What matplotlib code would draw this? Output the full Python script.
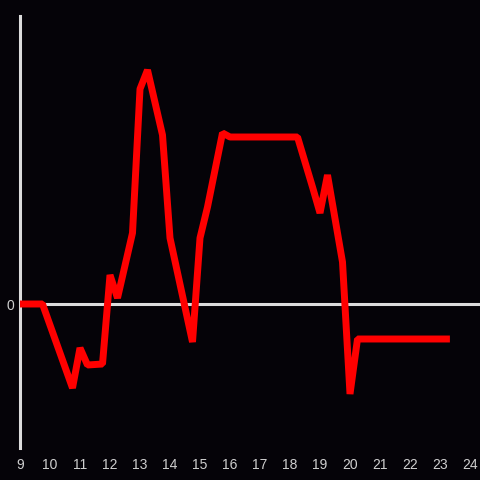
import matplotlib
matplotlib.use('Agg')
import matplotlib.pyplot as plt

# 数据：时间（小时）与数值
hours = [9.0, 9.75, 10.75, 11.0, 11.25, 11.75, 12.0, 12.25, 12.75, 13.0,
         13.25, 13.75, 14.0, 14.75, 15.0, 15.25, 15.75, 16.0, 18.25, 18.75,
         19.0, 19.25, 19.75, 20.0, 20.25, 23.33]
values = [0, 0, -84, -44, -61, -60, 29, 6, 71, 215,
          234, 169, 66, -38, 66, 97, 171, 167, 167, 117,
          91, 129, 42, -90, -35, -35]
xticks = list(range(9, 25))

bg = '#050308'
axis_col = '#dcdcdc'
text_col = '#cfcfcf'

plt.rcParams['font.family'] = ['Liberation Sans', 'DejaVu Sans']

fig = plt.figure(figsize=(4.8, 4.8), dpi=100)
fig.patch.set_facecolor(bg)
ax = fig.add_axes([20 / 480, 32 / 480, 460 / 480, 432 / 480])
ax.set_facecolor(bg)

ax.axhline(0, color=axis_col, linewidth=2.2, zorder=1)
ax.plot(hours, values, color='#ff0000', linewidth=5.0,
        solid_joinstyle='bevel', solid_capstyle='butt', zorder=3)

ax.set_xlim(9, 9 + 460 / 30)
ax.set_ylim(-144, 288)

for s in ['top', 'right', 'bottom']:
    ax.spines[s].set_visible(False)
ax.spines['left'].set_color(axis_col)
ax.spines['left'].set_linewidth(2.2)
ax.spines['left'].set_zorder(2)

ax.set_xticks(xticks)
ax.set_xticklabels([str(t) for t in xticks])
ax.set_yticks([0])
ax.set_yticklabels(['0'])
ax.tick_params(axis='both', length=0, colors=text_col, labelsize=10)
ax.tick_params(axis='x', pad=7)
ax.tick_params(axis='y', pad=4)

plt.savefig('out.png', dpi=100, facecolor=bg)
